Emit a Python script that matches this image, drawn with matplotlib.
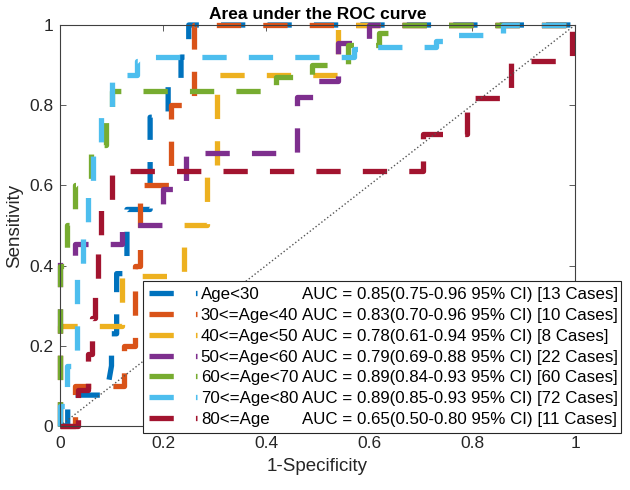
import matplotlib
matplotlib.use("Agg")
import matplotlib.pyplot as plt

plt.rcParams["font.family"] = ["Liberation Sans", "DejaVu Sans"]

# ROC vertices (1-specificity, sensitivity)
fpr_lt30 = [0, 0.015, 0.015, 0.09, 0.10, 0.10, 0.11, 0.11, 0.13, 0.13, 0.175, 0.175, 0.21, 0.21, 0.235, 0.235, 0.25, 0.25, 1]
tpr_lt30 = [0, 0, 0.077, 0.077, 0.15, 0.23, 0.23, 0.38, 0.38, 0.54, 0.54, 0.77, 0.77, 0.85, 0.85, 0.92, 0.92, 1, 1]

fpr_30_40 = [0, 0.03, 0.03, 0.125, 0.125, 0.145, 0.145, 0.155, 0.155, 0.215, 0.215, 0.26, 0.26, 1]
tpr_30_40 = [0, 0, 0.1, 0.1, 0.2, 0.2, 0.4, 0.4, 0.6, 0.6, 0.8, 0.8, 1, 1]

fpr_40_50 = [0, 0, 0.12, 0.12, 0.24, 0.24, 0.285, 0.285, 0.305, 0.305, 0.54, 0.54, 1]
tpr_40_50 = [0, 0.25, 0.25, 0.375, 0.375, 0.5, 0.5, 0.625, 0.625, 0.875, 0.875, 1, 1]

fpr_50_60 = [0, 0, 0.03, 0.03, 0.12, 0.12, 0.2, 0.2, 0.245, 0.245, 0.46, 0.46, 0.5, 0.5, 0.54, 0.54, 0.6, 0.6, 1]
tpr_50_60 = [0, 0.41, 0.41, 0.455, 0.455, 0.5, 0.5, 0.59, 0.59, 0.68, 0.68, 0.82, 0.82, 0.86, 0.86, 0.955, 0.955, 1, 1]

fpr_60_70 = [0, 0, 0.013, 0.013, 0.03, 0.03, 0.06, 0.06, 0.09, 0.09, 0.1, 0.1, 0.42, 0.42, 0.49, 0.49, 0.56, 0.56, 0.62, 0.62, 0.66, 0.66, 1]
tpr_60_70 = [0, 0.4, 0.4, 0.5, 0.5, 0.6, 0.6, 0.7, 0.7, 0.78, 0.78, 0.835, 0.835, 0.87, 0.87, 0.9, 0.9, 0.95, 0.95, 0.98, 0.98, 1, 1]

fpr_70_80 = [0, 0, 0.014, 0.014, 0.033, 0.033, 0.045, 0.045, 0.055, 0.055, 0.064, 0.064, 0.08, 0.08, 0.1, 0.1, 0.15, 0.15, 0.18, 0.18, 0.57, 0.57, 0.6, 0.6, 0.73, 0.73, 0.76, 0.76, 0.86, 0.86, 1]
tpr_70_80 = [0, 0.05, 0.05, 0.15, 0.15, 0.37, 0.37, 0.47, 0.47, 0.58, 0.58, 0.69, 0.69, 0.78, 0.78, 0.875, 0.875, 0.91, 0.91, 0.92, 0.92, 0.94, 0.94, 0.945, 0.945, 0.96, 0.96, 0.975, 0.975, 1, 1]

fpr_ge80 = [0, 0.035, 0.035, 0.055, 0.055, 0.062, 0.062, 0.068, 0.068, 0.074, 0.074, 0.08, 0.08, 0.1, 0.1, 0.705, 0.705, 0.79, 0.79, 0.875, 0.875, 0.995, 0.995, 1]
tpr_ge80 = [0, 0, 0.09, 0.09, 0.18, 0.18, 0.27, 0.27, 0.36, 0.36, 0.45, 0.45, 0.545, 0.545, 0.636, 0.636, 0.727, 0.727, 0.818, 0.818, 0.909, 0.909, 1, 1]

groups = ["Age<30", "30<=Age<40", "40<=Age<50", "50<=Age<60",
          "60<=Age<70", "70<=Age<80", "80<=Age"]
auc_labels = [
    "AUC = 0.85(0.75-0.96 95% CI) [13 Cases]",
    "AUC = 0.83(0.70-0.96 95% CI) [10 Cases]",
    "AUC = 0.78(0.61-0.94 95% CI) [8 Cases]",
    "AUC = 0.79(0.69-0.88 95% CI) [22 Cases]",
    "AUC = 0.89(0.84-0.93 95% CI) [60 Cases]",
    "AUC = 0.89(0.85-0.93 95% CI) [72 Cases]",
    "AUC = 0.65(0.50-0.80 95% CI) [11 Cases]",
]
colors = ["#0072BD", "#D95319", "#EDB120", "#7E2F8E", "#77AC30", "#4DBEEE", "#A2142F"]

curves = [(fpr_lt30, tpr_lt30), (fpr_30_40, tpr_30_40), (fpr_40_50, tpr_40_50),
          (fpr_50_60, tpr_50_60), (fpr_60_70, tpr_60_70), (fpr_70_80, tpr_70_80),
          (fpr_ge80, tpr_ge80)]

fig = plt.figure(figsize=(6.3, 4.9), dpi=100)
ax = fig.add_axes([60 / 630, 64 / 490, 515 / 630, 401 / 490])

for (fx, ty), name, c in zip(curves, groups, colors):
    ax.plot(fx, ty, color=c, lw=3.8, dashes=(4.6, 4.2), dash_capstyle="butt",
            solid_joinstyle="miter", clip_on=False, label=name)

# chance line
ax.plot([0, 1], [0, 1], ":", color="#555555", lw=1.0)

ax.set_xlim(0, 1)
ax.set_ylim(0, 1)
ax.set_xticks([0, 0.2, 0.4, 0.6, 0.8, 1])
ax.set_yticks([0, 0.2, 0.4, 0.6, 0.8, 1])
ax.set_xticklabels(["0", "0.2", "0.4", "0.6", "0.8", "1"])
ax.set_yticklabels(["0", "0.2", "0.4", "0.6", "0.8", "1"])
ax.tick_params(direction="in", top=True, right=True, length=4, width=0.6,
               labelsize=12.5, colors="#262626", color="#404040")
ax.tick_params(axis="x", pad=7)
ax.tick_params(axis="y", pad=5)
for s in ax.spines.values():
    s.set_color("#404040")
    s.set_linewidth(0.8)

ax.set_title("Area under the ROC curve", fontsize=12.5, fontweight="bold", pad=4)
ax.set_xlabel("1-Specificity", fontsize=13.5, color="#262626", labelpad=5)
ax.set_ylabel("Sensitivity", fontsize=13.5, color="#262626", labelpad=4)

leg = ax.legend(loc="lower left", bbox_to_anchor=(83 / 515, -7 / 401, 478 / 515, 0.4),
                mode="expand", borderaxespad=0, fontsize=12.2, handlelength=2.8,
                handletextpad=0.25, labelspacing=0.34, borderpad=0.36,
                fancybox=False, framealpha=1, edgecolor="#262626")
leg.get_frame().set_linewidth(0.8)
leg.set_zorder(5)

# AUC column aligned next to the group names
fig.canvas.draw()
inv = fig.transFigure.inverted()
for t, auc in zip(leg.get_texts(), auc_labels):
    bb = t.get_window_extent()
    _, yc = inv.transform((0, (bb.y0 + bb.y1) / 2))
    fig.text(302 / 630, yc, auc, fontsize=12.2, va="center", ha="left",
             color="#000000", zorder=10)

fig.savefig("out.png", dpi=100)
